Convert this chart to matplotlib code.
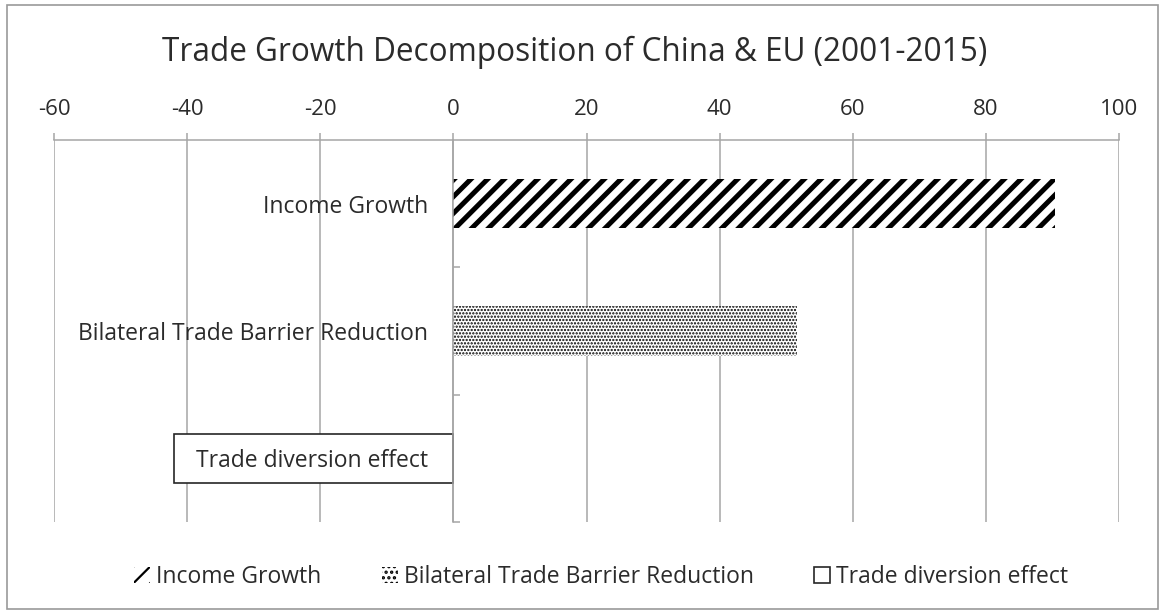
import matplotlib
matplotlib.use('Agg')
import matplotlib.pyplot as plt
from matplotlib.patches import Patch, Rectangle

plt.rcParams['font.family'] = ['Open Sans', 'DejaVu Sans']

title = 'Trade Growth Decomposition of China & EU (2001-2015)'
categories = ['Income Growth', 'Bilateral Trade Barrier Reduction', 'Trade diversion effect']
values = [90.4, 51.6, -41.9]
hatches = ['//', '.....', '']
x_ticks = [-60, -40, -20, 0, 20, 40, 60, 80, 100]

text_color = '#2b2b2b'
grid_color = '#a6a6a6'

fig = plt.figure(figsize=(11.65, 6.14), dpi=100)
ax = fig.add_axes([54 / 1165, 1 - 522 / 614, (1119 - 54) / 1165, (522 - 140) / 614])

ypos = list(range(len(categories)))
for y, v, h in zip(ypos, values, hatches):
    plt.rcParams['hatch.linewidth'] = 3.6 if h == '//' else 1.1
    if h:
        ax.barh(y, v, height=0.39, color='white', edgecolor='black', linewidth=0, hatch=h, zorder=1)
    else:
        ax.barh(y, v, height=0.39, color='white', edgecolor='#262626', linewidth=1.2, zorder=1)

ax.set_xlim(-60, 100)
ax.set_ylim(len(categories) - 0.5, -0.5)
ax.set_xticks(x_ticks)
ax.set_xticklabels([str(t) for t in x_ticks])
for t in x_ticks:
    ax.axvline(t, color=grid_color, linewidth=1.1, zorder=0.5)

ax.xaxis.tick_top()
ax.tick_params(axis='x', direction='out', length=5, width=1.1, color=grid_color,
               labelsize=16, labelcolor=text_color, pad=9.5)

# category axis sits at x = 0
ax.spines['left'].set_position(('data', 0))
ax.spines['left'].set_color(grid_color)
ax.spines['left'].set_linewidth(1.1)
ax.spines['top'].set_color(grid_color)
ax.spines['top'].set_linewidth(1.1)
ax.spines['right'].set_visible(False)
ax.spines['bottom'].set_visible(False)

ax.set_yticks([y + 0.5 for y in ypos[:-1]] + [len(categories) - 0.5])
ax.set_yticklabels([])
ax.set_yticks(ypos, minor=True)
ax.set_yticklabels(categories, minor=True)
ax.tick_params(axis='y', which='major', direction='in', length=5, width=1.1, color=grid_color)
ax.tick_params(axis='y', which='minor', length=0, pad=18, labelsize=16.5, labelcolor=text_color)

fig.suptitle(title, x=575 / 1165, y=1 - 52 / 614, va='center', fontsize=22.7, color=text_color)

plt.rcParams['hatch.linewidth'] = 1.6
handles = []
for lab, h in zip(categories, hatches):
    if h == '':
        handles.append(Patch(facecolor='white', edgecolor='#262626', linewidth=1.2, label=lab))
    else:
        handles.append(Patch(facecolor='white', edgecolor='black', linewidth=0,
                             hatch=h if h == '//' else '...', label=lab))
leg = fig.legend(handles=handles, loc='center', bbox_to_anchor=(601 / 1165, 1 - 577 / 614), ncol=3,
                 frameon=False, fontsize=16.5, handlelength=0.7, handleheight=0.7,
                 handletextpad=0.25, columnspacing=2.65, labelcolor=text_color)

fig.patches.append(Rectangle((7 / 1165, 5 / 614), (1158 - 7) / 1165, (609 - 5) / 614,
                             transform=fig.transFigure, fill=False, edgecolor='#999999',
                             linewidth=1.2))

fig.savefig('out.png', dpi=100)
